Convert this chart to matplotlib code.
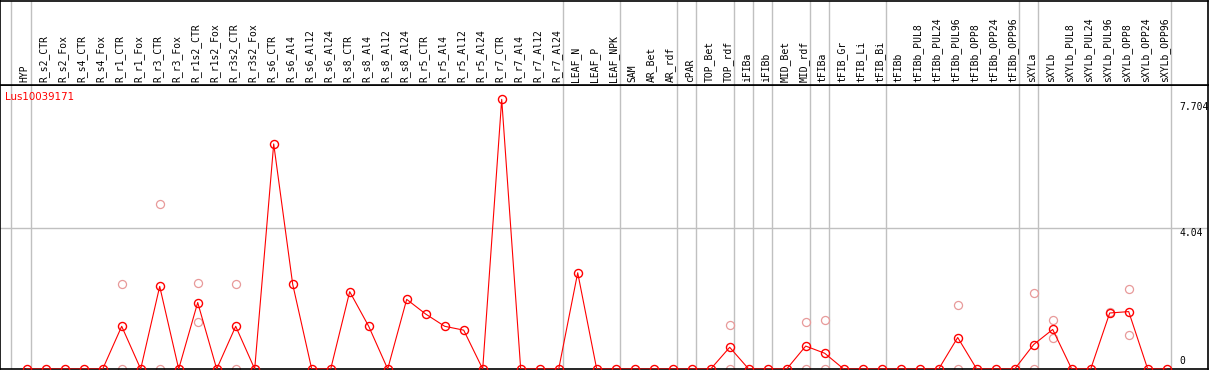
import numpy as np
import matplotlib.pyplot as plt
from matplotlib.transforms import blended_transform_factory

# Sample columns in display order
samples = [
    'HYP',
    'R_s2_CTR', 'R_s2_Fox', 'R_s4_CTR', 'R_s4_Fox',
    'R_r1_CTR', 'R_r1_Fox', 'R_r3_CTR', 'R_r3_Fox',
    'R_r1s2_CTR', 'R_r1s2_Fox', 'R_r3s2_CTR', 'R_r3s2_Fox',
    'R_s6_CTR', 'R_s6_Al4', 'R_s6_Al12', 'R_s6_Al24',
    'R_s8_CTR', 'R_s8_Al4', 'R_s8_Al12', 'R_s8_Al24',
    'R_r5_CTR', 'R_r5_Al4', 'R_r5_Al12', 'R_r5_Al24',
    'R_r7_CTR', 'R_r7_Al4', 'R_r7_Al12', 'R_r7_Al24',
    'LEAF_N', 'LEAF_P', 'LEAF_NPK',
    'SAM', 'AR_Bet', 'AR_rdf', 'cPAR', 'TOP_Bet', 'TOP_rdf',
    'iFIBa', 'iFIBb', 'MID_Bet', 'MID_rdf',
    'tFIBa', 'tFIB_Gr', 'tFIB_Li', 'tFIB_Bi', 'tFIBb',
    'tFIBb_PUL8', 'tFIBb_PUL24', 'tFIBb_PUL96',
    'tFIBb_OPP8', 'tFIBb_OPP24', 'tFIBb_OPP96',
    'sXYLa', 'sXYLb',
    'sXYLb_PUL8', 'sXYLb_PUL24', 'sXYLb_PUL96',
    'sXYLb_OPP8', 'sXYLb_OPP24', 'sXYLb_OPP96',
]

# Mean expression per sample
mean_vals = [
    0.0,
    0.0, 0.0, 0.0, 0.0,
    1.22, 0.0, 2.36, 0.0,
    1.90, 0.0, 1.22, 0.0,
    6.43, 2.42, 0.0, 0.0,
    2.21, 1.22, 0.0, 1.99,
    1.57, 1.22, 1.11, 0.0,
    7.704, 0.0, 0.0, 0.0,
    2.75, 0.0, 0.0,
    0.0, 0.0, 0.0, 0.0, 0.0, 0.62,
    0.0, 0.0, 0.0, 0.655,
    0.45, 0.0, 0.0, 0.0, 0.0,
    0.0, 0.0, 0.90,
    0.0, 0.0, 0.0,
    0.70, 1.13,
    0.0, 0.0, 1.60,
    1.64, 0.0, 0.0,
]

# Individual replicates (light circles): sample index and value
rep_idx = [5, 5, 7, 7, 9, 9, 11, 11, 37, 37, 41, 41, 42, 42,
           49, 49, 53, 53, 54, 54, 57, 58, 58]
rep_vals = [2.44, 0.0, 4.72, 0.0, 2.47, 1.33, 2.44, 0.0, 1.245, 0.0,
            1.33, 0.0, 1.39, 0.0, 1.84, 0.0, 2.16, 0.0, 1.39, 0.875,
            1.62, 2.30, 0.97]

# Last sample of each tissue group (separator drawn just after it)
group_ends = [-1, 0, 28, 31, 34, 35, 37, 38, 39, 41, 42, 45, 52, 53, 60]

y_ticks = [0, 4.04, 7.704]
y_tick_labels = ['0', '4.04', '7.704']
gene = 'Lus10039171'

W, H = 1209, 370
fig = plt.figure(figsize=(W / 100, H / 100), dpi=100)
fig.patch.set_facecolor('white')

# plot area: pixel rows 85..369, header: 0..85
ax = fig.add_axes([0, 1 / H, 1208 / W, 284 / H])
hx = fig.add_axes([0, 285 / H, 1208 / W, 84.5 / H], sharex=ax)

x = np.arange(len(samples))
x_left = -26.7 / 19
x_right = (1208 - 26.7) / 19
ax.set_xlim(x_left, x_right)
ymax = 284 / 35.0
ax.set_ylim(0, ymax)
hx.set_ylim(0, 1)

grid_col = '#c0c0c0'
for a in (ax, hx):
    for g in group_ends:
        a.axvline(g + 0.2, color=grid_col, lw=1.0, zorder=0)
    a.set_xticks([])
    a.set_yticks([])
    for s in a.spines.values():
        s.set_color('black')
        s.set_linewidth(1.2)

ax.axhline(y_ticks[1], color=grid_col, lw=1.0, zorder=0)

ax.plot(rep_idx, rep_vals, linestyle='none', marker='o', markersize=5.8,
        markerfacecolor='none', markeredgecolor='#e89a9a',
        markeredgewidth=0.9, zorder=2, clip_on=False)
ax.plot(x, mean_vals, color='red', lw=0.8, marker='o', markersize=5.8,
        markerfacecolor='none', markeredgecolor='red',
        markeredgewidth=1.0, zorder=3)

# sample names in the header
htr = blended_transform_factory(hx.transData, hx.transAxes)
for i, name in enumerate(samples):
    hx.text(i - 0.1, 2.5 / 84.5, name, transform=htr, rotation=90,
            ha='center', va='bottom', fontsize=7, family='DejaVu Sans Mono')

# y labels at the right
rtr = blended_transform_factory(ax.transAxes, ax.transData)
for val, lab in zip(y_ticks, y_tick_labels):
    if val == 0:
        ax.annotate(lab, (1179 / 1208, val), xycoords=rtr,
                    xytext=(0, 3), textcoords='offset pixels',
                    ha='left', va='bottom', fontsize=7,
                    family='DejaVu Sans Mono')
    else:
        ax.annotate(lab, (1179 / 1208, val), xycoords=rtr,
                    xytext=(0, -3 if val > 5 else -0.5),
                    textcoords='offset pixels',
                    ha='left', va='top', fontsize=7,
                    family='DejaVu Sans Mono')

ax.text(5 / 1208, (369 - 97) / 284, gene, transform=ax.transAxes,
        color='red', fontsize=7.4, ha='left', va='center')

fig.savefig('out.png', dpi=100)
